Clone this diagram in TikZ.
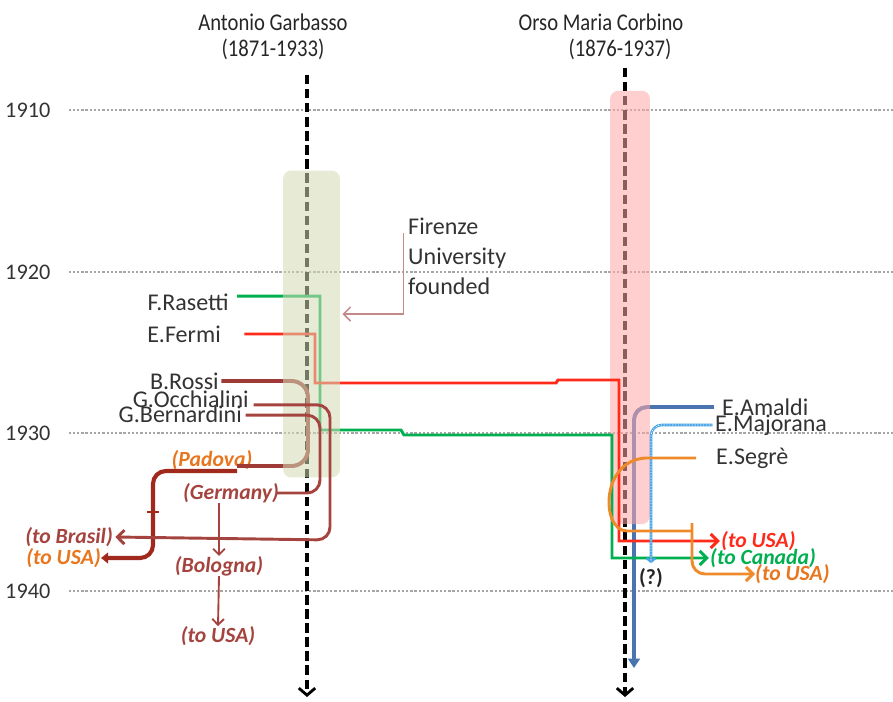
\documentclass[tikz,border=0pt]{standalone}
\usepackage{fontspec}
\setmainfont{Carlito}
\newfontfamily\narrowfont[FakeStretch=0.86]{Carlito}
\usetikzlibrary{arrows.meta,positioning}
\definecolor{gbandc}{HTML}{D3DBB5}
\definecolor{pbandc}{HTML}{FFA8A8}
\definecolor{rasgreen}{HTML}{00B050}
\definecolor{fermired}{HTML}{FF2A1A}
\definecolor{rossibrown}{HTML}{9E3B36}
\definecolor{occbrown}{HTML}{A5443F}
\definecolor{padred}{HTML}{A0281C}
\definecolor{segorange}{HTML}{EE8A2A}
\definecolor{txtorange}{HTML}{E8761E}
\definecolor{amalblue}{HTML}{4A74B0}
\definecolor{majblue}{HTML}{4AA3E8}
\definecolor{firarrow}{HTML}{C48A8A}

\begin{document}
\begin{tikzpicture}[x=0.03cm,y=-0.03cm,
  person/.style={font=\fontsize{20.5}{24}\selectfont,text=black!80,inner sep=0pt},
  yearlbl/.style={font=\fontsize{19}{22}\selectfont,text=black!80,inner sep=0pt},
  head/.style={font=\narrowfont\fontsize{20.5}{24}\selectfont,text=black!85,inner sep=0pt},
  dest/.style={font=\fontsize{18.5}{22}\selectfont\bfseries\itshape,inner sep=0pt},
  yearline/.style={gray!70,line width=0.9pt,dash pattern=on 2pt off 1.6pt},
  axis/.style={black,line width=2.6pt,dash pattern=on 8pt off 4pt,
    -{Straight Barb[length=6pt,width=14pt,line width=2.4pt]}},
  band/.style={rounded corners=7pt,inner sep=0pt,fill opacity=0.55},
  move/.style={line width=2.5pt,-{Straight Barb[length=6pt,width=12pt]},shorten >=1pt},
  bendline/.style={line width=2.5pt,rounded corners=11pt}]
\useasboundingbox (0,0) rectangle (893,702);

% years
\foreach \yr/\yy in {1910/110,1920/272,1930/433,1940/591}{
  \node[yearlbl,anchor=west] (y\yr) at (5,\yy) {\yr};
  \draw[yearline] (y\yr.east) ++(18,0) -- (893,\yy);
}

% the two professors
\node[head] (garbasso) at (273,22) {Antonio Garbasso};
\node[head] (garbassoyrs) [below=7pt of garbasso] {(1871-1933)};
\node[head] (corbino) at (601,22) {Orso Maria Corbino};
\node[head] (corbinoyrs) at (620,49) {(1876-1937)};
\coordinate (gtop) at (307,75);
\coordinate (gend) at (307,697);
\coordinate (ctop) at (625,68);
\coordinate (cend) at (625,697);
\draw[axis] (gtop) -- (gend);
\draw[axis] (ctop) -- (cend);

% people
\node[person,anchor=east] (rasetti) at (229,302) {F.Rasetti};
\node[person,anchor=east] (fermi) at (221,334) {E.Fermi};
\node[person,anchor=east] (rossi) at (219,381) {B.Rossi};
\node[person,anchor=east] (occhialini) at (249,399) {G.Occhialini};
\node[person,anchor=east] (bernardini) at (242,414) {G.Bernardini};
\node[person,anchor=west] (amaldi) at (722,407) {E.Amaldi};
\node[person,anchor=west] (majorana) at (715,425) {E.Majorana};
\node[person,anchor=west] (segre) at (716,458) {E.Segrè};

% where they went
\node[dest,text=txtorange] (padova) at (212,460) {(Padova)};
\node[dest,text=occbrown] (germany) at (231,493) {(Germany)};
\node[dest,text=occbrown] (bologna) at (219,566) {(Bologna)};
\node[dest,text=occbrown] (tousaB) at (218,636) {(to USA)};
\node[dest,text=occbrown,anchor=east] (brasil) at (113,537) {(to Brasil)};
\node[dest,text=txtorange,anchor=east] (tousaP) at (101,558) {(to USA)};
\node[dest,text=fermired,anchor=west] (tousaF) at (721,541) {(to USA)};
\node[dest,text=rasgreen,anchor=west] (canada) at (710,558) {(to Canada)};
\node[dest,text=txtorange,anchor=west] (tousaS) at (755,574) {(to USA)};
\node[font=\fontsize{18.5}{22}\selectfont\bfseries,text=black!85,inner sep=0pt] (unknown) at (651,578) {(?)};

% paths
\coordinate (amaldiend) at (634,668);
\draw[bendline,amalblue,line width=3.4pt,-{Triangle[length=8pt,width=10pt]}] ([xshift=-7pt]amaldi.west) -| (amaldiend);
\node[band,fill=pbandc,minimum width=34pt,minimum height=370pt] (corbinoband) at (630,307.5) {};

\draw[move,rasgreen] ([xshift=7pt,yshift=5pt]rasetti.east) -| (320,430) -- (401,430)
  -- (404,435) -- (612,435) |- (canada.west);
\draw[move,fermired] ([xshift=20pt]fermi.east) -| (315,383) -- (556,383) -- (558,380)
  -- (619,380) |- (tousaF.west);
\draw[bendline,rossibrown,line width=3.4pt,rounded corners=14pt] ([xshift=2pt]rossi.east) -| (308,466) -- (237,466);
\node[band,fill=gbandc,minimum width=48.5pt,minimum height=262pt] (firenzeband) at (311.5,324) {};

\draw[bendline,padred,line width=3.5pt,-{Triangle[length=6pt,width=9pt]}] (237,471) -- (153,471) |- (tousaP.east);
\draw[padred,line width=1.5pt] (147,512) -- (159,512);
\draw[bendline,occbrown,-{Straight Barb[length=6pt,width=12pt]}] ([xshift=4pt,yshift=-5pt]occhialini.east) -| (330,540) -- ([xshift=2pt]brasil.east);
\draw[bendline,occbrown] ([xshift=3pt,yshift=-1pt]bernardini.east) -| (320,493) -- ([xshift=-2pt]germany.east);
\draw[occbrown,line width=1.6pt,-{Straight Barb[length=5pt,width=10pt]}] (bologna.north |- germany.south) -- (bologna.north);
\draw[occbrown,line width=1.6pt,-{Straight Barb[length=5pt,width=10pt]}] (bologna.south) -- (tousaB.north);

\draw[bendline,majblue,line width=2.2pt,rounded corners=9pt,
  postaction={draw=white,line width=0.6pt,dash pattern=on 1pt off 1.4pt,-},
  -{Straight Barb[length=3pt,width=7pt]}] ([xshift=-2pt]majorana.west) -| ([yshift=4pt]unknown.north);
\draw[segorange,line width=2.5pt] ([xshift=-17pt]segre.west) -- (650,458)
  .. controls (600,456) and (600,531) .. (627,531) -- (692,531);
\draw[bendline,segorange,-{Straight Barb[length=6pt,width=12pt]}] (692,523) |- (tousaS.west);

\node[person,anchor=north west,align=left,font=\fontsize{20.5}{25.5}\selectfont] (firenze) at (408,218) {Firenze\\University\\founded};
\draw[firarrow,line width=1.3pt,-{Straight Barb[length=6pt,width=12pt]}] ([xshift=-4pt,yshift=-13pt]firenze.north west) |- ([xshift=2pt,yshift=8.5pt]firenzeband.east);
\end{tikzpicture}
\end{document}
